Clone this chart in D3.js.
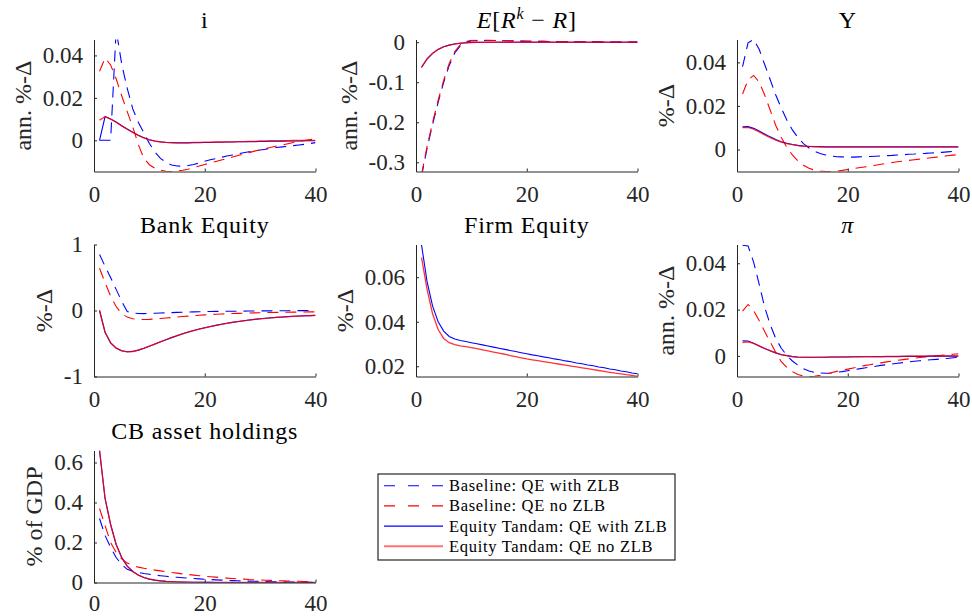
<!DOCTYPE html>
<html>
<meta charset="utf-8">
<head>
<style>
  body { margin: 0; background: #fff; }
  svg text { font-family: "Liberation Serif", "Times New Roman", serif; }
</style>
</head>
<body>
<svg id="chart" width="972" height="616"></svg>
<script src="https://d3js.org/d3.v7.min.js"></script>
<script>

// quarters after the shock
var periods = [1,2,3,4,5,6,7,8,9,10,11,12,13,14,15,16,17,18,19,20,
               21,22,23,24,25,26,27,28,29,30,31,32,33,34,35,36,37,38,39,40];
var xTicks = [0, 20, 40];

var seriesNames = ['Baseline: QE with ZLB', 'Baseline: QE no ZLB',
                   'Equity Tandam: QE with ZLB', 'Equity Tandam: QE no ZLB'];

// i (policy rate)
var iBaseZLB = [0, 0, 0, 0.052, 0.036, 0.0245, 0.0148, 0.0085, 0.0035, -0.0015, -0.0055, -0.0085, -0.0104, -0.0116, -0.0121, -0.0122, -0.0119, -0.0114, -0.0107, -0.0099,
  -0.0092, -0.0086, -0.008, -0.0074, -0.0069, -0.0064, -0.0059, -0.0054, -0.005, -0.0046, -0.0042, -0.0038, -0.0034, -0.0031, -0.0028, -0.0025, -0.0022, -0.0019, -0.0015, -0.0011];
var iBaseNoZLB = [0.0325, 0.0388, 0.0355, 0.029, 0.021, 0.0135, 0.0063, -0.002, -0.0085, -0.0115, -0.0132, -0.0141, -0.0146, -0.0147, -0.0145, -0.0141, -0.0136, -0.0129, -0.0121, -0.0114,
  -0.0107, -0.01, -0.0093, -0.0086, -0.0079, -0.0072, -0.0065, -0.0058, -0.0051, -0.0045, -0.0039, -0.0033, -0.0027, -0.0022, -0.0016, -0.001, -0.0005, -0.0001, 0.0003, 0.0007];
var iEqZLB = [0, 0.0112, 0.0101, 0.0086, 0.0069, 0.0053, 0.0038, 0.0024, 0.0012, 0.0003, -0.0003, -0.0007, -0.001, -0.0011, -0.0012, -0.0012, -0.0012, -0.0011, -0.0011, -0.001,
  -0.001, -0.0009, -0.0009, -0.0008, -0.0008, -0.0007, -0.0007, -0.0006, -0.0006, -0.0005, -0.0005, -0.0004, -0.0004, -0.0004, -0.0003, -0.0003, -0.0003, -0.0002, -0.0002, -0.0002];
var iEqNoZLB = [0.0095, 0.0111, 0.01, 0.0085, 0.0068, 0.0052, 0.0037, 0.0023, 0.0011, 0.0002, -0.0004, -0.0008, -0.001, -0.0011, -0.0011, -0.0011, -0.0011, -0.001, -0.001, -0.0009,
  -0.0009, -0.0008, -0.0008, -0.0007, -0.0007, -0.0006, -0.0006, -0.0005, -0.0005, -0.0004, -0.0004, -0.0003, -0.0003, -0.0002, -0.0002, -0.0001, -0.0001, -0.0001, 0, 0];
var iTicks = [0, 0.02, 0.04];

// E[R^k - R] (excess return)
var spBaseZLB = [-0.335, -0.265, -0.205, -0.15, -0.1, -0.058, -0.027, -0.009, 0, 0.003, 0.004, 0.0045, 0.0045, 0.0043, 0.004, 0.0037, 0.0034, 0.0031, 0.0028, 0.0026,
  0.0024, 0.0022, 0.002, 0.0018, 0.0016, 0.0015, 0.0014, 0.0013, 0.0012, 0.0011, 0.001, 0.0009, 0.0008, 0.0007, 0.0007, 0.0006, 0.0006, 0.0005, 0.0005, 0.0004];
var spBaseNoZLB = [-0.33, -0.26, -0.2, -0.145, -0.095, -0.053, -0.023, -0.006, 0.002, 0.0045, 0.005, 0.005, 0.0048, 0.0045, 0.0042, 0.0039, 0.0036, 0.0033, 0.003, 0.0027,
  0.0025, 0.0023, 0.0021, 0.0019, 0.0017, 0.0016, 0.0015, 0.0013, 0.0012, 0.0011, 0.001, 0.0009, 0.0009, 0.0008, 0.0007, 0.0007, 0.0006, 0.0006, 0.0005, 0.0005];
var spEqZLB = [-0.063, -0.042, -0.028, -0.018, -0.0115, -0.0072, -0.0044, -0.0026, -0.0015, -0.0008, -0.0004, -0.0002, -0.0001, -0.0001, 0, 0, 0, 0, 0, 0,
  0, 0, 0, 0, 0, 0, 0, 0, 0, 0, 0, 0, 0, 0, 0, 0, 0, 0, 0, 0];
var spEqNoZLB = [-0.062, -0.041, -0.0275, -0.0178, -0.0113, -0.0071, -0.0043, -0.0025, -0.0014, -0.0008, -0.0004, -0.0002, -0.0001, 0, 0, 0, 0, 0, 0, 0,
  0, 0, 0, 0, 0, 0, 0, 0, 0, 0, 0, 0, 0, 0, 0, 0, 0, 0, 0, 0];
var spTicks = [-0.3, -0.2, -0.1, 0];

// Y (output)
var yBaseZLB = [0.038, 0.049, 0.0505, 0.046, 0.039, 0.032, 0.025, 0.019, 0.0135, 0.009, 0.0055, 0.0027, 0.0007, -0.0008, -0.0018, -0.0025, -0.003, -0.0033, -0.0034, -0.0035,
  -0.0035, -0.0034, -0.0033, -0.0032, -0.0031, -0.003, -0.0028, -0.0027, -0.0025, -0.0024, -0.0022, -0.0021, -0.0019, -0.0018, -0.0016, -0.0015, -0.0013, -0.0011, -0.0009, -0.0007];
var yBaseNoZLB = [0.0255, 0.032, 0.034, 0.031, 0.025, 0.018, 0.011, 0.0055, 0.001, -0.0025, -0.0052, -0.0072, -0.0086, -0.0095, -0.0099, -0.0101, -0.0101, -0.0099, -0.0096, -0.0092,
  -0.0088, -0.0084, -0.008, -0.0076, -0.0072, -0.0068, -0.0064, -0.006, -0.0056, -0.0053, -0.005, -0.0047, -0.0044, -0.0041, -0.0038, -0.0035, -0.0032, -0.0029, -0.0026, -0.0023];
var yEqZLB = [0.0104, 0.0105, 0.0097, 0.0085, 0.0071, 0.0058, 0.0046, 0.0036, 0.0029, 0.0023, 0.0019, 0.0016, 0.0014, 0.0013, 0.0013, 0.0012, 0.0012, 0.0012, 0.0012, 0.0012,
  0.0012, 0.0012, 0.0012, 0.0012, 0.0012, 0.0012, 0.0012, 0.0012, 0.0012, 0.0012, 0.0012, 0.0012, 0.0012, 0.0012, 0.0012, 0.0012, 0.0012, 0.0012, 0.0012, 0.0012];
var yEqNoZLB = [0.01, 0.0101, 0.0093, 0.0081, 0.0067, 0.0054, 0.0043, 0.0034, 0.0027, 0.0022, 0.0018, 0.0015, 0.0014, 0.0013, 0.0012, 0.0012, 0.0012, 0.0012, 0.0012, 0.0012,
  0.0012, 0.0012, 0.0012, 0.0012, 0.0012, 0.0012, 0.0012, 0.0012, 0.0012, 0.0012, 0.0012, 0.0012, 0.0012, 0.0012, 0.0012, 0.0012, 0.0012, 0.0012, 0.0012, 0.0012];
var yTicks = [0, 0.02, 0.04];

// Bank Equity
var beBaseZLB = [0.85, 0.67, 0.5, 0.32, 0.14, -0.015, -0.038, -0.045, -0.047, -0.045, -0.042, -0.038, -0.035, -0.032, -0.029, -0.026, -0.023, -0.021, -0.019, -0.017,
  -0.015, -0.014, -0.013, -0.012, -0.011, -0.01, -0.009, -0.008, -0.007, -0.006, -0.0055, -0.005, -0.0045, -0.004, -0.0035, -0.003, -0.0025, -0.002, -0.0015, -0.001];
var beBaseNoZLB = [0.64, 0.42, 0.22, 0.06, -0.05, -0.1, -0.125, -0.135, -0.137, -0.134, -0.128, -0.121, -0.114, -0.106, -0.099, -0.092, -0.085, -0.078, -0.072, -0.066,
  -0.061, -0.057, -0.053, -0.049, -0.046, -0.043, -0.04, -0.038, -0.036, -0.034, -0.032, -0.03, -0.029, -0.027, -0.026, -0.025, -0.024, -0.022, -0.021, -0.02];
var beEqZLB = [0, -0.33, -0.49, -0.57, -0.61, -0.625, -0.62, -0.6, -0.572, -0.54, -0.507, -0.474, -0.442, -0.411, -0.381, -0.353, -0.327, -0.303, -0.281, -0.261,
  -0.242, -0.225, -0.209, -0.194, -0.18, -0.167, -0.155, -0.144, -0.134, -0.125, -0.117, -0.11, -0.104, -0.098, -0.093, -0.088, -0.084, -0.08, -0.077, -0.074];
var beEqNoZLB = [0, -0.33, -0.49, -0.571, -0.611, -0.626, -0.621, -0.601, -0.573, -0.541, -0.508, -0.475, -0.443, -0.412, -0.382, -0.354, -0.328, -0.304, -0.282, -0.262,
  -0.243, -0.226, -0.21, -0.195, -0.181, -0.168, -0.156, -0.145, -0.135, -0.126, -0.118, -0.111, -0.105, -0.099, -0.094, -0.089, -0.085, -0.081, -0.078, -0.075];
var beTicks = [-1, 0, 1];

// Firm Equity (baseline has no firm equity)
var feEqZLB = [0.0745, 0.058, 0.047, 0.04, 0.0358, 0.0334, 0.0322, 0.0316, 0.0311, 0.0306, 0.0301, 0.0296, 0.0291, 0.0286, 0.0281, 0.0276, 0.0271, 0.0266, 0.0261, 0.0256,
  0.0251, 0.0247, 0.0242, 0.0238, 0.0233, 0.0229, 0.0224, 0.022, 0.0215, 0.0211, 0.0206, 0.0202, 0.0197, 0.0193, 0.0188, 0.0184, 0.0179, 0.0175, 0.017, 0.0166];
var feEqNoZLB = [0.0688, 0.0545, 0.0435, 0.0365, 0.0325, 0.0306, 0.0297, 0.0292, 0.0288, 0.0284, 0.0279, 0.0274, 0.0269, 0.0264, 0.0259, 0.0254, 0.0248, 0.0243, 0.0238, 0.0233,
  0.0229, 0.0225, 0.0221, 0.0217, 0.0213, 0.0209, 0.0205, 0.0201, 0.0197, 0.0193, 0.0189, 0.0185, 0.0181, 0.0177, 0.0173, 0.0169, 0.0166, 0.0162, 0.0159, 0.0155];
var feTicks = [0.02, 0.04, 0.06];

// pi (inflation)
var piBaseZLB = [0.0478, 0.0475, 0.0405, 0.031, 0.021, 0.0135, 0.0075, 0.0033, 0.0002, -0.0022, -0.004, -0.0055, -0.0065, -0.0071, -0.0074, -0.0075, -0.0074, -0.0071, -0.0068, -0.0064,
  -0.006, -0.0056, -0.0052, -0.0048, -0.0045, -0.0041, -0.0038, -0.0035, -0.0032, -0.0029, -0.0026, -0.0023, -0.0021, -0.0019, -0.0017, -0.0015, -0.0013, -0.0011, -0.0008, -0.0006];
var piBaseNoZLB = [0.0193, 0.0222, 0.0195, 0.0153, 0.0105, 0.006, 0.0015, -0.0025, -0.005, -0.0068, -0.008, -0.0087, -0.0089, -0.0088, -0.0084, -0.0079, -0.0073, -0.0067, -0.0062, -0.0057,
  -0.0052, -0.0047, -0.0042, -0.0038, -0.0034, -0.003, -0.0026, -0.0022, -0.0019, -0.0016, -0.0013, -0.001, -0.0007, -0.0005, -0.0002, 0, 0.0003, 0.0005, 0.0007, 0.0009];
var piEqZLB = [0.0065, 0.0064, 0.0055, 0.0043, 0.0032, 0.0022, 0.0013, 0.0005, 0.0001, -0.0003, -0.0005, -0.0006, -0.0006, -0.0006, -0.0006, -0.0006, -0.0005, -0.0005, -0.0005, -0.0005,
  -0.0004, -0.0004, -0.0004, -0.0004, -0.0003, -0.0003, -0.0003, -0.0003, -0.0003, -0.0002, -0.0002, -0.0002, -0.0002, -0.0002, -0.0001, -0.0001, -0.0001, -0.0001, -0.0001, -0.0001];
var piEqNoZLB = [0.0057, 0.0061, 0.0054, 0.0043, 0.0032, 0.0022, 0.0013, 0.0005, 0.0001, -0.0003, -0.0005, -0.0006, -0.0006, -0.0006, -0.0006, -0.0005, -0.0005, -0.0005, -0.0004, -0.0004,
  -0.0004, -0.0004, -0.0003, -0.0003, -0.0003, -0.0003, -0.0002, -0.0002, -0.0002, -0.0002, -0.0001, -0.0001, -0.0001, -0.0001, 0, 0, 0, 0, 0, 0];
var piTicks = [0, 0.02, 0.04];

// CB asset holdings
var cbBaseZLB = [0.32, 0.235, 0.175, 0.125, 0.09, 0.066, 0.056, 0.05, 0.045, 0.041, 0.037, 0.034, 0.031, 0.028, 0.026, 0.024, 0.022, 0.02, 0.018, 0.016,
  0.0145, 0.013, 0.012, 0.0105, 0.0095, 0.0085, 0.0075, 0.0067, 0.006, 0.0053, 0.0047, 0.0041, 0.0036, 0.0031, 0.0027, 0.0023, 0.002, 0.0017, 0.0014, 0.0012];
var cbBaseNoZLB = [0.37, 0.285, 0.2, 0.15, 0.118, 0.097, 0.085, 0.077, 0.071, 0.066, 0.062, 0.058, 0.054, 0.05, 0.047, 0.043, 0.04, 0.037, 0.034, 0.031,
  0.029, 0.027, 0.024, 0.022, 0.02, 0.018, 0.017, 0.015, 0.014, 0.0125, 0.0115, 0.0105, 0.0095, 0.0085, 0.0075, 0.0067, 0.006, 0.0053, 0.0047, 0.004];
var cbEqZLB = [0.66, 0.42, 0.29, 0.19, 0.125, 0.082, 0.055, 0.037, 0.025, 0.017, 0.012, 0.008, 0.0055, 0.004, 0.0028, 0.002, 0.0014, 0.001, 0.0007, 0.0005,
  0.0004, 0.0003, 0.0002, 0.0002, 0.0001, 0.0001, 0.0001, 0, 0, 0, 0, 0, 0, 0, 0, 0, 0, 0, 0, 0];
var cbEqNoZLB = [0.66, 0.42, 0.29, 0.19, 0.125, 0.082, 0.055, 0.037, 0.025, 0.017, 0.012, 0.008, 0.0055, 0.004, 0.0028, 0.002, 0.0014, 0.001, 0.0007, 0.0005,
  0.0004, 0.0003, 0.0002, 0.0002, 0.0001, 0.0001, 0.0001, 0, 0, 0, 0, 0, 0, 0, 0, 0, 0, 0, 0, 0];
var cbTicks = [0, 0.2, 0.4, 0.6];

// panels: series in order baseline ZLB, baseline no ZLB, tandem ZLB, tandem no ZLB
var panels = [
  {title: 'i', ylabel: 'ann. %-Δ', col: 0, row: 0, domain: [-0.0147, 0.0475], ticks: iTicks,
   series: [iBaseZLB, iBaseNoZLB, iEqZLB, iEqNoZLB]},
  {title: 'spread', ylabel: 'ann. %-Δ', col: 1, row: 0, domain: [-0.323, 0.0068], ticks: spTicks,
   series: [spBaseZLB, spBaseNoZLB, spEqZLB, spEqNoZLB]},
  {title: 'Y', ylabel: '%-Δ', col: 2, row: 0, domain: [-0.0101, 0.0505], ticks: yTicks,
   series: [yBaseZLB, yBaseNoZLB, yEqZLB, yEqNoZLB]},
  {title: 'Bank Equity', ylabel: '%-Δ', col: 0, row: 1, domain: [-1, 1], ticks: beTicks,
   series: [beBaseZLB, beBaseNoZLB, beEqZLB, beEqNoZLB]},
  {title: 'Firm Equity', ylabel: '%-Δ', col: 1, row: 1, domain: [0.0154, 0.0747], ticks: feTicks,
   series: [null, null, feEqZLB, feEqNoZLB]},
  {title: 'π', ylabel: 'ann. %-Δ', col: 2, row: 1, domain: [-0.0089, 0.0481], ticks: piTicks,
   series: [piBaseZLB, piBaseNoZLB, piEqZLB, piEqNoZLB]},
  {title: 'CB asset holdings', ylabel: '% of GDP', col: 0, row: 2, domain: [0, 0.66], ticks: cbTicks,
   series: [cbBaseZLB, cbBaseNoZLB, cbEqZLB, cbEqNoZLB]}
];

var colors = ['#0000ff', '#ff0000', '#0000ff', '#ff0000'];
var dashes = ['11,7', '11,7', null, null];
var opac = [1, 1, 1, 0.8];
var axisColor = '#262626';

var colX = [94, 416, 737], colW = 221.5;
var rowY = [39.5, 244.5, 450.5], rowH = 132;

var svg = d3.select('#chart');
svg.append('rect').attr('width', 972).attr('height', 616).attr('fill', '#fff');

panels.forEach(function (p, k) {
  var g = svg.append('g')
    .attr('transform', 'translate(' + colX[p.col] + ',' + rowY[p.row] + ')');

  var x = d3.scaleLinear().domain([0, 40]).range([0, colW]);
  var y = d3.scaleLinear().domain(p.domain).range([rowH, 0]);

  g.append('clipPath').attr('id', 'clip' + k)
    .append('rect').attr('width', colW).attr('height', rowH);

  var line = d3.line()
    .x(function (d, i) { return x(periods[i]) })
    .y(function (d) { return y(d) });

  var plot = g.append('g').attr('clip-path', 'url(#clip' + k + ')');
  p.series.forEach(function (s, j) {
    if (!s) return;
    plot.append('path')
      .attr('d', line(s))
      .attr('fill', 'none')
      .attr('stroke', colors[j])
      .attr('stroke-opacity', opac[j])
      .attr('stroke-width', j == 3 ? 1.3 : 1.1)
      .attr('stroke-dasharray', dashes[j]);
  });

  var xa = g.append('g').attr('transform', 'translate(0,' + rowH + ')')
    .call(d3.axisBottom(x).tickValues(xTicks).tickSize(-3).tickSizeOuter(0)
      .tickPadding(p.row == 2 ? 12 : 14)
      .tickFormat(function (d) { return String(d) }));
  var ya = g.append('g')
    .call(d3.axisLeft(y).tickValues(p.ticks).tickSize(-3).tickSizeOuter(0).tickPadding(11)
      .tickFormat(function (d) { return String(d) }));

  [xa, ya].forEach(function (a) {
    a.attr('font-family', null).attr('font-size', 23);
    a.select('.domain').attr('stroke', axisColor).attr('stroke-width', 1);
    a.selectAll('.tick line').attr('stroke', axisColor);
    a.selectAll('.tick text').attr('fill', axisColor);
  });

  // y label placed left of the tick labels
  var bb = ya.node().getBBox();
  g.append('text')
    .attr('transform', 'translate(' + (bb.x - 12) + ',' + (rowH / 2) + ') rotate(-90)')
    .attr('text-anchor', 'middle')
    .attr('font-size', 24)
    .attr('fill', axisColor)
    .text(p.ylabel);

  // title
  var t = g.append('text')
    .attr('x', colW / 2).attr('y', -12)
    .attr('text-anchor', 'middle')
    .attr('font-size', 24)
    .attr('letter-spacing', 0.8)
    .attr('fill', '#000');
  if (p.title == 'spread') {
    t.append('tspan').attr('font-style', 'italic').text('E');
    t.append('tspan').text('[');
    t.append('tspan').attr('font-style', 'italic').text('R');
    t.append('tspan').attr('font-style', 'italic').attr('font-size', 16).attr('dy', -9).text('k');
    t.append('tspan').attr('dy', 9).text(' − ');
    t.append('tspan').attr('font-style', 'italic').text('R');
    t.append('tspan').text(']');
  } else if (p.title == 'π') {
    t.attr('font-style', 'italic').text(p.title);
  } else {
    t.text(p.title);
  }
});

// legend
var leg = svg.append('g').attr('transform', 'translate(378,474)');
leg.append('rect').attr('width', 297).attr('height', 86)
  .attr('fill', '#fff').attr('stroke', axisColor).attr('stroke-width', 1.2);
seriesNames.forEach(function (name, j) {
  var yy = 11.7 + j * 20.2;
  leg.append('line')
    .attr('x1', 6).attr('x2', 65).attr('y1', yy).attr('y2', yy)
    .attr('stroke', colors[j])
    .attr('stroke-opacity', j == 3 ? 0.55 : 1)
    .attr('stroke-width', j == 3 ? 2 : 1.1)
    .attr('stroke-dasharray', dashes[j] ? '11,13' : null);
  leg.append('text')
    .attr('x', 71).attr('y', yy).attr('dy', '0.33em')
    .attr('font-size', 16.5)
    .attr('letter-spacing', 0.7)
    .attr('fill', '#000')
    .text(name);
});

</script>
</body>
</html>
